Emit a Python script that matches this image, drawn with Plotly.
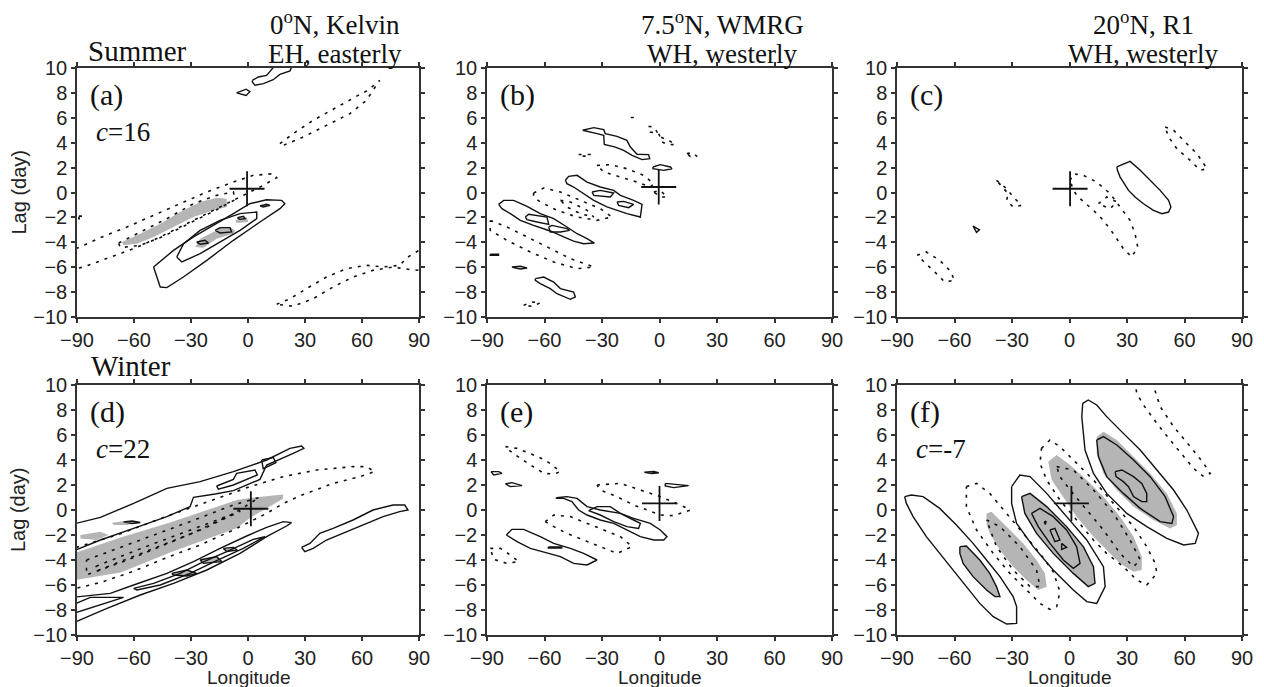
import plotly.graph_objects as go

W, H = 1264, 687

# ---------------------------------------------------------------
# Contours, as (longitude, lag) pairs.
# POS = solid (positive), NEG = dotted (negative),
# SHADE = grey (significant), CORE = grey with a solid rim
# ---------------------------------------------------------------

# (a) summer, 0N Kelvin
A_SHADE_1 = [(-66.4, -3.98), (-56.7, -3.31), (-46.2, -2.50), (-35.7, -1.57), (-25.2, -0.76), (-16.5, -0.42),
             (-11.2, -0.50), (-11.2, -1.16), (-18.2, -1.43), (-28.7, -1.97), (-39.2, -2.77), (-49.7, -3.57),
             (-58.5, -4.11), (-65.5, -4.24)]
A_SHADE_2 = [(-27.8, -4.38), (-25.2, -3.71), (-18.2, -3.17), (-9.5, -2.77), (-6.8, -3.04), (-7.7, -3.31),
             (-16.5, -3.71), (-23.5, -4.43)]
A_SHADE_3 = [(-6.8, -2.24), (-0.7, -1.97), (0.2, -2.37), (-6.0, -2.45)]
A_CORE_1 = [(-27.0, -3.98), (-22.6, -3.84), (-20.8, -4.06), (-25.2, -4.16)]
A_CORE_2 = [(-17.3, -3.04), (-14.7, -2.82), (-9.5, -2.82), (-8.6, -3.17), (-14.7, -3.25)]
A_CORE_3 = [(-5.6, -2.02), (-2.4, -1.91), (-1.5, -2.10), (-4.5, -2.16)]
A_CORE_4 = [(6.3, -1.08), (9.8, -0.95), (11.6, -1.03), (8.0, -1.16)]
A_POS_1 = [(2.3, 9.0), (5.4, 9.28), (9.8, 9.41), (11.6, 9.73), (14.8, 10.3), (23.5, 10.3), (22.1, 9.76),
           (16.8, 9.49), (13.3, 9.06), (8.1, 8.74), (3.7, 8.61), (2.3, 8.88)]
A_POS_2 = [(-6.0, 8.0), (-1.0, 8.3), (1.0, 8.1), (-1.0, 7.8)]
A_POS_3 = [(-49.7, -5.98), (-46.2, -7.59), (-42.7, -7.64), (-34.0, -6.79), (-21.7, -5.45), (-7.7, -3.84),
           (6.3, -2.37), (16.8, -1.30), (19.4, -0.90), (17.7, -0.63), (9.8, -0.58), (0.9, -0.90), (-7.7, -1.70),
           (-16.5, -2.50), (-28.7, -3.57), (-39.2, -4.65), (-48.0, -5.72)]
A_POS_4 = [(-37.5, -5.18), (-34.8, -5.58), (-25.2, -4.91), (-14.7, -3.98), (-4.2, -3.04), (4.6, -2.10),
           (4.6, -1.57), (-4.2, -1.70), (-14.7, -2.24), (-25.2, -3.04), (-33.9, -4.11)]
A_NEG_1 = [(16.8, 3.92), (23.8, 4.73), (34.3, 5.80), (46.6, 6.87), (58.0, 7.80), (63.2, 8.21), (69.3, 9.01),
           (62.3, 7.40), (53.6, 6.33), (41.3, 5.39), (29.1, 4.46), (18.6, 3.79)]
A_NEG_2 = [(15.1, -8.98), (22.1, -8.53), (30.8, -7.72), (41.3, -6.79), (51.8, -6.12), (62.3, -5.85),
           (71.1, -5.98), (79.8, -5.85), (84.2, -5.18), (90.5, -4.6), (90.5, -6.25), (85.1, -6.19),
           (76.3, -5.98), (65.8, -6.25), (55.3, -6.79), (44.8, -7.59), (34.3, -8.53), (23.8, -9.14)]
A_NEG_3 = [(-90.5, -4.51), (-77.7, -3.63), (-63.7, -2.77), (-49.7, -1.83), (-35.7, -0.90), (-21.7, 0.04),
           (-7.7, 0.84), (2.8, 1.38), (13.3, 1.51), (15.1, 1.19), (8.1, 0.58), (-4.2, -0.36), (-16.5, -1.30),
           (-32.2, -2.50), (-46.2, -3.57), (-60.2, -4.51), (-74.2, -5.31), (-86.5, -5.98), (-90.5, -6.12)]
A_NEG_4 = [(-68.1, -4.06), (-56.7, -3.17), (-42.7, -2.10), (-28.7, -0.90), (-16.5, -0.23), (-7.7, 0.04),
           (-6.8, -0.58), (-16.5, -1.38), (-30.5, -2.45), (-44.5, -3.52), (-56.7, -4.24), (-67.2, -4.43)]
A_NEG_5 = [(-89.0, -1.9), (-87.0, -1.9), (-87.0, -2.1), (-89.0, -2.1)]
A_CROSS = (-0.5, 0.3)

# (b) summer, 7.5N WMRG
B_POS_1 = [(-40.1, 5.0), (-34.3, 5.21), (-29.1, 5.05), (-28.3, 4.73), (-22.2, 4.51), (-17.0, 4.19),
           (-15.2, 3.65), (-11.7, 3.07), (-5.7, 3.04), (-5.1, 2.72), (-9.1, 2.64), (-14.3, 2.99),
           (-18.7, 3.39), (-23.0, 3.65), (-28.8, 3.87), (-29.1, 4.59), (-32.6, 4.73)]
B_POS_2 = [(-3.4, 2.05), (0.4, 2.24), (5.7, 2.05), (6.5, 1.91), (2.2, 1.78), (-3.4, 1.91)]
B_POS_3 = [(-49.1, 0.98), (-47.4, 1.30), (-43.0, 1.38), (-37.8, 0.84), (-30.9, 0.44), (-23.9, 0.17),
           (-20.4, -0.23), (-13.5, -0.63), (-9.1, -0.95), (-10.0, -1.97), (-17.0, -1.70), (-27.4, -1.16),
           (-34.3, -0.63), (-39.6, -0.09), (-44.8, 0.44), (-48.3, 0.71)]
B_POS_4 = [(-35.2, 0.04), (-30.9, 0.17), (-23.9, -0.04), (-25.7, -0.36), (-34.3, -0.23)]
B_POS_5 = [(-22.2, -0.76), (-18.7, -0.71), (-13.5, -0.95), (-16.1, -1.22), (-21.3, -1.03)]
B_POS_6 = [(-83.9, -0.95), (-81.3, -0.63), (-76.1, -0.63), (-69.1, -1.11), (-62.2, -1.70), (-55.2, -2.10),
           (-48.3, -2.77), (-43.0, -3.31), (-37.8, -3.71), (-34.0, -4.06), (-39.6, -4.11), (-44.8, -3.90),
           (-50.0, -3.57), (-57.0, -3.09), (-65.7, -2.64), (-72.6, -2.24), (-77.8, -1.70), (-82.2, -1.30)]
B_POS_7 = [(-70.0, -1.97), (-68.3, -1.75), (-58.7, -1.97), (-57.8, -2.56), (-63.9, -2.37), (-69.1, -2.18)]
B_POS_8 = [(-57.8, -2.77), (-56.1, -2.64), (-48.3, -2.90), (-46.9, -3.04), (-51.7, -3.17), (-57.0, -3.17)]
B_POS_9 = [(-88.3, -4.95), (-84.0, -4.95), (-84.0, -5.05), (-88.3, -5.05)]
B_POS_10 = [(-77.0, -5.98), (-72.6, -5.93), (-69.1, -6.06), (-72.6, -6.14), (-76.1, -6.03)]
B_POS_11 = [(-64.8, -6.92), (-60.4, -6.79), (-55.2, -7.19), (-51.7, -7.72), (-44.8, -7.99), (-43.9, -8.39),
            (-46.5, -8.58), (-53.5, -8.13), (-57.0, -7.72), (-62.2, -7.32), (-64.8, -7.05)]
B_NEG_1 = [(-88.3, -2.24), (-79.6, -2.77), (-69.1, -3.57), (-57.0, -4.51), (-46.5, -5.31), (-34.3, -5.98),
           (-43.0, -6.12), (-55.2, -5.58), (-67.4, -4.78), (-79.6, -3.84), (-88.3, -3.04)]
B_NEG_2 = [(-65.7, -0.04), (-60.4, 0.36), (-51.7, 0.04), (-41.3, -0.63), (-30.9, -1.30), (-24.8, -1.97),
           (-32.6, -2.24), (-43.0, -1.97), (-53.5, -1.43), (-62.2, -0.76), (-65.7, -0.36)]
B_NEG_3 = [(-51.7, -0.63), (-46.5, -0.76), (-37.8, -1.43), (-34.3, -1.97), (-41.3, -1.70), (-48.3, -1.16)]
B_NEG_4 = [(-32.6, 2.18), (-25.7, 2.24), (-17.0, 1.91), (-8.3, 1.38), (-3.0, 0.71), (-4.8, 0.44),
           (-11.7, 0.84), (-20.4, 1.24), (-29.1, 1.65)]
B_NEG_5 = [(-5.7, 5.31), (-3.0, 5.26), (0.4, 4.46), (4.8, 4.19), (8.3, 3.84), (3.9, 3.87), (1.3, 4.06),
           (-0.4, 4.73), (-4.8, 4.86)]
B_NEG_6 = [(-3.0, 0.04), (0.4, 0.17), (3.9, -0.36), (0.4, -0.36)]
B_NEG_7 = [(-42.2, 3.05), (-36.1, 3.05), (-36.1, 2.92), (-42.2, 2.92)]
B_NEG_8 = [(14.3, 3.12), (17.0, 3.2), (19.6, 2.9), (16.0, 2.9)]
B_NEG_9 = [(-70.9, -9.06), (-66.0, -8.8), (-62.2, -8.85), (-66.0, -9.15)]
B_NEG_10 = [(-15.0, 6.02), (-12.0, 6.02), (-12.0, 5.98), (-15.0, 5.98)]
B_CROSS = (-0.4, 0.44)

# (c) summer, 20N R1
C_POS_1 = [(24.7, 2.05), (31.6, 2.50), (36.9, 1.78), (42.1, 0.98), (47.3, 0.17), (51.7, -0.63), (52.9, -1.16),
           (51.7, -1.57), (48.2, -1.70), (43.8, -1.43), (38.6, -0.90), (34.2, -0.36), (30.8, 0.17),
           (28.1, 0.84), (26.4, 1.24), (25.0, 1.78)]
C_POS_2 = [(-50.3, -2.7), (-47.0, -3.0), (-48.5, -3.2)]
C_NEG_1 = [(0.3, 0.98), (2.0, 1.51), (7.2, 1.38), (14.2, 0.84), (21.2, -0.09), (26.4, -1.16), (31.6, -2.24),
           (34.2, -3.31), (35.6, -4.38), (32.5, -5.18), (28.1, -4.51), (22.9, -3.31), (17.7, -2.24),
           (12.5, -1.43), (7.2, -0.76), (4.6, -0.36), (2.0, 0.17)]
C_NEG_2 = [(15.1, -0.9), (19.4, -0.36), (24.7, -0.76), (21.2, -1.30)]
C_NEG_3 = [(49.9, 5.26), (54.3, 5.0), (61.2, 3.92), (66.5, 3.12), (71.7, 1.91), (68.2, 1.78), (63.0, 2.58),
           (56.0, 3.52), (51.7, 4.46)]
C_NEG_4 = [(-79.5, -5.05), (-74.7, -4.78), (-67.7, -5.45), (-62.5, -6.25), (-59.9, -7.05), (-65.1, -7.19),
           (-69.4, -6.52), (-74.7, -5.72)]
C_NEG_5 = [(-38.1, 0.98), (-32.8, 0.31), (-29.4, -0.36), (-25.0, -1.03), (-29.4, -1.16), (-32.8, -0.63),
           (-32.0, -0.09)]
C_CROSS = (0.3, 0.3)

# (d) winter, 0N Kelvin
D_SHADE_1 = [(-90.5, -3.4), (-67.0, -2.2), (-41.0, -1.0), (-5.8, 0.8), (1.0, 0.96), (18.4, 1.25),
             (18.4, 0.9), (1.0, -0.64), (-5.8, -1.44), (-41.0, -3.4), (-67.0, -5.0), (-90.5, -5.6)]
D_SHADE_2 = [(-88.2, -2.0), (-77.7, -1.73), (-73.4, -2.0), (-79.5, -2.4), (-88.2, -2.27)]
D_SHADE_3 = [(-71.6, -1.01), (-63.7, -0.85), (-59.4, -1.01), (-63.7, -1.2), (-70.7, -1.2)]
D_CORE_1 = [(-40.1, -5.07), (-32.2, -4.8), (-27.0, -5.07), (-32.2, -5.28), (-39.2, -5.2)]
D_CORE_2 = [(-25.2, -4.0), (-16.5, -3.73), (-13.8, -4.13), (-23.5, -4.27)]
D_CORE_3 = [(-13.0, -3.07), (-7.7, -2.99), (-5.6, -3.2), (-11.2, -3.33)]
D_CORE_4 = [(-65.5, -0.95), (-61.0, -0.88), (-56.7, -1.0), (-61.0, -1.08)]
D_POS_1 = [(-90.5, -1.07), (-77.7, -0.59), (-60.2, 0.53), (-42.7, 1.73), (-25.2, 2.27), (-7.7, 3.07),
           (9.8, 4.0), (22.1, 4.93), (28.2, 5.12), (29.4, 4.93), (23.8, 4.53), (9.8, 3.6), (6.3, 2.45),
           (-7.7, 1.55), (-17.3, 1.28), (-28.7, 1.01), (-30.5, 0.27), (-42.7, -0.53), (-60.2, -1.47),
           (-77.7, -2.4), (-90.5, -3.2)]
D_POS_2 = [(-16.5, 1.92), (-7.7, 2.45), (-6.0, 2.93), (3.7, 3.2), (4.9, 2.8), (-7.7, 2.0), (-15.6, 1.67)]
D_POS_3 = [(7.2, 4.0), (13.3, 4.19), (14.7, 3.79), (8.0, 3.31)]
D_POS_4 = [(-90.5, -6.96), (-72.5, -6.67), (-60.2, -6.0), (-42.7, -5.07), (-28.7, -4.13), (-14.7, -3.07),
           (-0.7, -2.08), (9.8, -1.39), (18.6, -0.93), (22.9, -1.01), (20.3, -1.28), (9.8, -2.13),
           (-4.2, -3.47), (-21.7, -4.8), (-39.2, -5.87), (-56.7, -6.8), (-74.2, -7.87), (-90.5, -8.93)]
D_POS_5 = [(-60.2, -6.27), (-49.7, -5.87), (-35.7, -5.07), (-25.2, -4.27), (-11.2, -3.33), (2.8, -2.35),
           (8.9, -2.13), (-2.5, -3.07), (-16.5, -4.05), (-30.5, -5.07), (-46.2, -6.0), (-58.5, -6.4)]
D_POS_6 = [(-90.5, -7.47), (-83.0, -6.99), (-65.5, -6.99), (-72.5, -7.33), (-83.0, -7.87), (-90.5, -8.21)]
D_POS_7 = [(28.2, -2.99), (32.6, -2.67), (37.8, -1.87), (44.8, -1.47), (55.3, -0.8), (65.8, 0.0), (76.3, 0.4),
           (82.5, 0.4), (84.2, 0.0), (79.8, -0.13), (71.1, -0.53), (60.6, -1.2), (50.1, -1.87), (41.3, -2.4),
           (34.3, -3.07), (29.9, -3.33)]
D_NEG_1 = [(-90.5, -3.0), (-69.0, -2.0), (-42.7, -0.5), (-16.5, 0.9), (1.1, 1.87), (18.6, 2.67), (36.1, 3.2),
           (55.3, 3.47), (62.3, 3.47), (66.7, 3.07), (58.8, 2.67), (44.8, 2.13), (27.3, 1.13), (18.6, 0.53),
           (9.8, -0.27), (-7.7, -1.6), (-25.2, -2.8), (-42.7, -3.8), (-60.2, -4.9), (-77.7, -5.8),
           (-90.5, -6.27)]
D_NEG_2 = [(-85.0, -4.0), (-60.0, -2.6), (-30.0, -0.9), (-7.7, 0.4), (6.0, 1.0), (-7.7, -0.3),
           (-30.0, -1.9), (-60.0, -3.8), (-85.0, -5.2)]
D_NEG_3 = [(-80.0, -4.5), (-55.0, -3.0), (-25.0, -1.3), (-4.0, -0.1), (-25.0, -1.6), (-55.0, -3.4),
           (-80.0, -4.9)]
D_CROSS = (1.5, 0.1)

# (e) winter, 7.5N WMRG
E_POS_1 = [(-53.8, 0.99), (-48.3, 1.07), (-43.0, 0.93), (-37.8, 0.27), (-30.9, 0.0), (-20.4, -0.27),
           (-13.5, -0.67), (-4.8, -1.07), (0.4, -1.6), (3.9, -2.13), (2.2, -2.4), (-3.0, -2.4), (-10.0, -2.13),
           (-17.0, -1.6), (-23.9, -1.07), (-30.9, -0.8), (-37.8, -0.4), (-42.2, 0.0), (-45.7, 0.67),
           (-50.0, 0.93), (-53.8, 0.93)]
E_POS_2 = [(-37.0, -0.05), (-32.6, 0.27), (-25.7, 0.27), (-20.4, -0.27), (-13.5, -0.8), (-10.0, -1.07),
           (-10.9, -1.47), (-17.0, -1.33), (-23.9, -0.93), (-30.9, -0.4)]
E_POS_3 = [(-79.9, -2.0), (-77.0, -1.55), (-70.9, -1.55), (-62.2, -2.13), (-55.2, -2.67), (-46.5, -3.07),
           (-39.6, -3.47), (-32.6, -4.0), (-37.8, -4.4), (-44.8, -4.27), (-51.7, -3.73), (-60.4, -3.33),
           (-67.4, -3.07), (-74.3, -2.53)]
E_POS_4 = [(-58.0, -2.95), (-51.0, -2.95), (-51.0, -3.05), (-58.0, -3.05)]
E_POS_5 = [(-87.9, 3.07), (-83.9, 3.07), (-82.2, 2.93), (-86.5, 2.8)]
E_POS_6 = [(-80.4, 2.08), (-77.0, 2.19), (-71.7, 1.95), (-77.8, 1.87)]
E_POS_7 = [(-7.9, 3.02), (-3.0, 3.08), (-0.4, 2.98), (-4.0, 2.92)]
E_POS_8 = [(3.0, 2.13), (12.6, 2.0), (15.2, 1.95), (7.4, 1.79), (3.0, 1.92)]
E_NEG_1 = [(-80.4, 5.07), (-74.3, 4.93), (-65.7, 4.4), (-59.6, 4.0), (-51.7, 3.07), (-55.2, 2.88),
           (-60.4, 2.93), (-67.4, 3.6), (-72.6, 4.13), (-78.7, 4.8)]
E_NEG_2 = [(-59.6, -0.93), (-55.2, -0.4), (-46.5, -0.53), (-37.8, -1.07), (-29.1, -1.6), (-20.4, -2.13),
           (-14.3, -2.93), (-22.2, -3.47), (-30.9, -2.93), (-39.6, -2.4), (-48.3, -1.87), (-55.2, -1.33)]
E_NEG_3 = [(-32.6, 2.0), (-20.4, 2.13), (-10.0, 1.6), (0.4, 1.07), (10.9, 0.4), (16.1, 0.0), (7.4, -0.45),
           (0.4, -0.4), (-6.5, 0.0), (-13.5, 0.4), (-22.2, 1.07), (-30.9, 1.6)]
E_NEG_4 = [(-88.3, -3.07), (-83.0, -3.07), (-77.8, -3.6), (-73.5, -4.13), (-79.6, -4.27), (-86.5, -3.95)]
E_CROSS = (0.0, 0.53)

# (f) winter, 20N R1
F_SHADE_1 = [(-43.3, -0.27), (-40.7, -0.13), (-32.8, -1.33), (-24.1, -2.67), (-17.2, -4.0), (-12.8, -5.07),
             (-11.9, -6.13), (-16.3, -6.4), (-22.4, -5.6), (-29.4, -4.53), (-36.3, -3.2), (-41.6, -1.87),
             (-43.3, -1.07)]
F_SHADE_2 = [(-11.1, 3.87), (-6.7, 4.4), (0.3, 3.6), (9.0, 2.4), (17.7, 1.07), (26.4, -0.53), (33.4, -2.13),
             (37.7, -3.73), (37.7, -4.8), (33.4, -4.93), (26.4, -4.27), (19.4, -3.2), (12.5, -2.13),
             (3.7, -0.53), (-3.2, 1.07), (-9.3, 2.4)]
F_SHADE_3 = [(14.2, 5.87), (17.7, 6.27), (24.7, 5.6), (33.4, 4.27), (42.1, 2.93), (50.8, 1.33), (56.0, -0.27),
             (56.0, -1.2), (52.5, -1.47), (43.8, -0.8), (33.4, 0.27), (24.7, 1.6), (17.7, 2.93), (14.2, 4.53)]
F_CORE_1 = [(-57.2, -2.93), (-53.8, -2.88), (-46.8, -4.0), (-41.6, -5.07), (-38.1, -6.13), (-36.3, -6.93),
            (-38.9, -6.93), (-43.3, -6.4), (-50.3, -5.33), (-55.5, -4.27), (-57.2, -3.47)]
F_CORE_2 = [(-25.0, 1.07), (-20.6, 1.33), (-11.9, 0.27), (-1.5, -1.33), (7.2, -2.93), (12.5, -4.53),
            (13.3, -5.87), (9.8, -6.13), (2.0, -5.07), (-8.5, -3.47), (-17.2, -1.87), (-23.3, -0.27)]
F_POS_1 = [(-86.0, 1.07), (-82.5, 1.2), (-76.4, 1.07), (-67.7, 0.13), (-59.0, -1.2), (-50.3, -2.67),
           (-43.3, -4.0), (-36.3, -5.33), (-29.4, -6.93), (-27.6, -7.73), (-27.6, -9.07), (-32.8, -9.12),
           (-39.8, -8.53), (-46.8, -7.47), (-53.8, -6.13), (-60.7, -4.8), (-67.7, -3.47), (-74.7, -2.13),
           (-81.6, -0.53), (-85.1, 0.53)]
F_POS_2 = [(-30.2, 1.87), (-25.9, 2.8), (-20.6, 2.67), (-11.9, 1.33), (-1.5, -0.53), (9.0, -2.4), (17.7, -4.53),
           (18.6, -6.13), (14.2, -7.47), (9.0, -7.33), (2.0, -6.4), (-8.5, -4.8), (-18.9, -2.93),
           (-27.6, -1.07), (-30.2, 0.53)]
F_POS_3 = [(-19.8, -0.27), (-15.4, 0.13), (-8.5, -0.53), (-1.5, -1.6), (3.7, -2.93), (5.5, -4.27), (2.0, -4.67),
           (-3.2, -4.0), (-10.2, -2.67), (-16.3, -1.33)]
F_POS_4 = [(-10.2, -1.6), (-7.6, -1.47), (-5.0, -2.4), (-7.6, -2.53)]
F_POS_5 = [(-4.1, -2.67), (-1.5, -2.99), (-4.1, -3.15)]
F_POS_6 = [(-13.2, -0.95), (-12.2, -0.9), (-12.6, -1.15)]
F_POS_7 = [(6.9, 8.53), (9.8, 8.8), (14.2, 8.4), (19.4, 7.47), (28.1, 6.13), (36.9, 4.8), (45.6, 3.2),
           (54.3, 1.6), (61.2, 0.0), (67.3, -1.87), (65.6, -2.67), (59.5, -2.8), (50.8, -2.27), (40.3, -1.33),
           (29.9, -0.27), (19.4, 1.33), (12.5, 2.93), (8.1, 4.8), (6.4, 7.47)]
F_POS_8 = [(14.2, 5.6), (17.7, 5.87), (24.7, 5.2), (33.4, 4.0), (42.1, 2.67), (49.9, 1.07), (54.3, -0.53),
           (53.4, -1.07), (47.3, -0.93), (36.9, 0.13), (28.1, 1.33), (19.4, 2.67), (15.1, 4.27)]
F_POS_9 = [(23.8, 3.07), (27.3, 3.2), (33.4, 2.67), (37.7, 2.13), (40.3, 1.33), (40.3, 0.67), (37.7, 0.67),
           (33.4, 1.07), (30.8, 1.87), (28.1, 2.27), (24.3, 2.67)]
F_NEG_1 = [(-53.8, 1.87), (-48.5, 2.13), (-41.6, 1.33), (-32.8, -0.27), (-24.1, -1.87), (-15.4, -3.47),
           (-8.5, -4.93), (-5.0, -6.53), (-6.7, -7.73), (-10.2, -7.95), (-15.4, -7.47), (-22.4, -6.4),
           (-31.1, -5.07), (-39.8, -3.47), (-48.5, -1.6), (-53.8, 0.27)]
F_NEG_2 = [(-43.3, -0.8), (-36.3, -1.33), (-25.9, -2.93), (-17.2, -4.8), (-15.4, -6.13), (-20.6, -6.13),
           (-29.4, -4.8), (-38.1, -2.93)]
F_NEG_3 = [(-14.6, 4.93), (-10.2, 5.6), (-5.0, 5.07), (2.0, 4.0), (12.5, 2.4), (22.9, 0.53), (33.4, -1.33),
           (40.3, -2.93), (44.7, -4.27), (45.6, -5.07), (40.3, -6.0), (35.1, -5.6), (28.1, -4.53),
           (19.4, -3.47), (12.5, -2.4), (3.7, -0.8), (-5.0, 0.8), (-11.9, 2.4), (-15.4, 3.73)]
F_NEG_4 = [(-6.7, 3.47), (2.0, 3.2), (12.5, 1.6), (22.9, -0.27), (31.6, -2.4), (36.9, -4.0), (33.4, -4.53),
           (26.4, -3.47), (17.7, -1.6), (9.0, 0.0), (0.3, 1.6), (-5.0, 2.67)]
F_NEG_5 = [(34.0, 10.3), (43.0, 10.3), (47.3, 8.27), (54.3, 6.67), (63.0, 5.07), (70.0, 3.73), (73.4, 2.93),
           (70.0, 2.67), (64.7, 3.33), (59.5, 4.27), (52.5, 5.6), (45.6, 6.93), (38.6, 8.4), (35.1, 9.33)]
F_CROSS = (1.0, 0.53)

# axis ticks
LON_TICKS = [-90, -60, -30, 0, 30, 60, 90]
LAG_TICKS = [-10, -8, -6, -4, -2, 0, 2, 4, 6, 8, 10]

# panel texts
PANEL_TAGS = ["(a)", "(b)", "(c)", "(d)", "(e)", "(f)"]
SPEEDS = {"a": "<i>c</i>=16", "d": "<i>c</i>=22", "f": "<i>c</i>=-7"}
TITLE_L1 = ["0<sup>o</sup>N, Kelvin", "7.5<sup>o</sup>N, WMRG", "20<sup>o</sup>N, R1"]
TITLE_L2 = ["EH, easterly", "WH, westerly", "WH, westerly"]

PANELS = {
    "a": dict(shade=[A_SHADE_1, A_SHADE_2, A_SHADE_3], core=[A_CORE_1, A_CORE_2, A_CORE_3, A_CORE_4],
              solid=[A_POS_1, A_POS_2, A_POS_3, A_POS_4],
              dotted=[A_NEG_1, A_NEG_2, A_NEG_3, A_NEG_4, A_NEG_5], cross=A_CROSS),
    "b": dict(shade=[], core=[],
              solid=[B_POS_1, B_POS_2, B_POS_3, B_POS_4, B_POS_5, B_POS_6, B_POS_7, B_POS_8, B_POS_9,
                     B_POS_10, B_POS_11],
              dotted=[B_NEG_1, B_NEG_2, B_NEG_3, B_NEG_4, B_NEG_5, B_NEG_6, B_NEG_7, B_NEG_8, B_NEG_9, B_NEG_10],
              cross=B_CROSS),
    "c": dict(shade=[], core=[], solid=[C_POS_1, C_POS_2],
              dotted=[C_NEG_1, C_NEG_2, C_NEG_3, C_NEG_4, C_NEG_5], cross=C_CROSS),
    "d": dict(shade=[D_SHADE_1, D_SHADE_2, D_SHADE_3], core=[D_CORE_1, D_CORE_2, D_CORE_3, D_CORE_4],
              solid=[D_POS_1, D_POS_2, D_POS_3, D_POS_4, D_POS_5, D_POS_6, D_POS_7],
              dotted=[D_NEG_1, D_NEG_2, D_NEG_3], cross=D_CROSS),
    "e": dict(shade=[], core=[],
              solid=[E_POS_1, E_POS_2, E_POS_3, E_POS_4, E_POS_5, E_POS_6, E_POS_7, E_POS_8],
              dotted=[E_NEG_1, E_NEG_2, E_NEG_3, E_NEG_4], cross=E_CROSS),
    "f": dict(shade=[F_SHADE_1, F_SHADE_2, F_SHADE_3], core=[F_CORE_1, F_CORE_2],
              solid=[F_POS_1, F_POS_2, F_POS_3, F_POS_4, F_POS_5, F_POS_6, F_POS_7, F_POS_8, F_POS_9],
              dotted=[F_NEG_1, F_NEG_2, F_NEG_3, F_NEG_4, F_NEG_5], cross=F_CROSS),
}

# plot frames in pixels: left, top, right, bottom
FRAMES = {
    "a": (77, 68, 419, 317), "b": (487, 68, 832, 317), "c": (897, 68, 1242, 317),
    "d": (77, 385, 419, 635), "e": (487, 385, 832, 635), "f": (897, 385, 1242, 635),
}

SERIF = "Liberation Serif, Times New Roman, serif"
SANS = "Liberation Sans, Arial, sans-serif"
INK = "#111111"
GREY = "#b5b5b5"


def px(x):
    return x / W


def py(y):
    return 1 - y / H


def rings(polys):
    xs, ys = [], []
    for p in polys:
        xs += [q[0] for q in p] + [p[0][0], None]
        ys += [q[1] for q in p] + [p[0][1], None]
    return xs, ys


fig = go.Figure()
annotations = []

for i, key in enumerate(["a", "b", "c", "d", "e", "f"]):
    n = i + 1
    xa, ya = ("x", "y") if n == 1 else (f"x{n}", f"y{n}")
    pan = PANELS[key]

    # grey shading (plain and with rim)
    if pan["shade"] or pan["core"]:
        xs, ys = rings(pan["shade"] + pan["core"])
        fig.add_trace(go.Scatter(x=xs, y=ys, mode="lines", fill="toself", fillcolor=GREY,
                                 line=dict(width=0, color=GREY), xaxis=xa, yaxis=ya,
                                 showlegend=False, hoverinfo="skip"))
    # negative contours
    xs, ys = rings(pan["dotted"])
    fig.add_trace(go.Scatter(x=xs, y=ys, mode="lines", line=dict(color=INK, width=1.6, dash="3px,6px"),
                             xaxis=xa, yaxis=ya, showlegend=False, hoverinfo="skip"))
    # positive contours
    xs, ys = rings(pan["solid"] + pan["core"])
    fig.add_trace(go.Scatter(x=xs, y=ys, mode="lines", line=dict(color=INK, width=1.4),
                             xaxis=xa, yaxis=ya, showlegend=False, hoverinfo="skip"))
    # reference point
    fig.add_trace(go.Scatter(x=[pan["cross"][0]], y=[pan["cross"][1]], mode="markers",
                             marker=dict(symbol="cross-thin", size=25, line=dict(width=1.8, color=INK)),
                             xaxis=xa, yaxis=ya, showlegend=False, hoverinfo="skip"))

    l, t, r, b = FRAMES[key]
    axis_common = dict(showline=True, linecolor="#333333", linewidth=1.5, mirror="ticks",
                       ticks="outside", ticklen=4, tickwidth=1.5, tickcolor="#333333",
                       showgrid=False, zeroline=False, automargin=False,
                       tickfont=dict(family=SANS, size=20, color="#222222"))
    fig.layout[f"xaxis{'' if n == 1 else n}"] = dict(
        axis_common, domain=[px(l), px(r)], range=[-90, 90], tickvals=LON_TICKS,
        anchor=ya)
    fig.layout[f"yaxis{'' if n == 1 else n}"] = dict(
        axis_common, domain=[py(b), py(t)], range=[-10, 10], tickvals=LAG_TICKS,
        anchor=xa)

    # panel tag and phase speed
    annotations.append(dict(x=px(l + 11), y=py(t + 27), text=PANEL_TAGS[i], xanchor="left", yanchor="middle",
                            font=dict(family=SERIF, size=30, color=INK)))
    if key in SPEEDS:
        annotations.append(dict(x=px(l + 17), y=py(t + 64), text=SPEEDS[key], xanchor="left",
                                yanchor="middle", font=dict(family=SERIF, size=27, color=INK)))
    if key in "def":
        annotations.append(dict(x=px((l + r) / 2), y=py(677), text="Longitude", xanchor="center",
                                yanchor="middle", font=dict(family=SANS, size=19, color="#222222")))
    if key in "ad":
        annotations.append(dict(x=px(18), y=py((t + b) / 2), text="Lag (day)", textangle=-90,
                                xanchor="center", yanchor="middle",
                                font=dict(family=SANS, size=20, color="#222222")))

# column titles
for cx, l1, l2 in zip([335, 722, 1143], TITLE_L1, TITLE_L2):
    annotations.append(dict(x=px(cx), y=py(23), text=l1, xanchor="center", yanchor="middle",
                            font=dict(family=SERIF, size=27, color=INK)))
    annotations.append(dict(x=px(cx), y=py(54), text=l2, xanchor="center", yanchor="middle",
                            font=dict(family=SERIF, size=27, color=INK)))

annotations.append(dict(x=px(86), y=py(51), text="Summer", xanchor="left", yanchor="middle",
                        font=dict(family=SERIF, size=29, color=INK)))
annotations.append(dict(x=px(89), y=py(366), text="Winter", xanchor="left", yanchor="middle",
                        font=dict(family=SERIF, size=29, color=INK)))

for a in annotations:
    a.update(xref="paper", yref="paper", showarrow=False)

fig.update_layout(width=W, height=H, margin=dict(l=0, r=0, t=0, b=0, autoexpand=False),
                  paper_bgcolor="white", plot_bgcolor="white",
                  annotations=annotations, hovermode=False, showlegend=False)

fig.write_html("out.html", config={"displayModeBar": False},
               post_script="document.body.style.margin='0px';")
